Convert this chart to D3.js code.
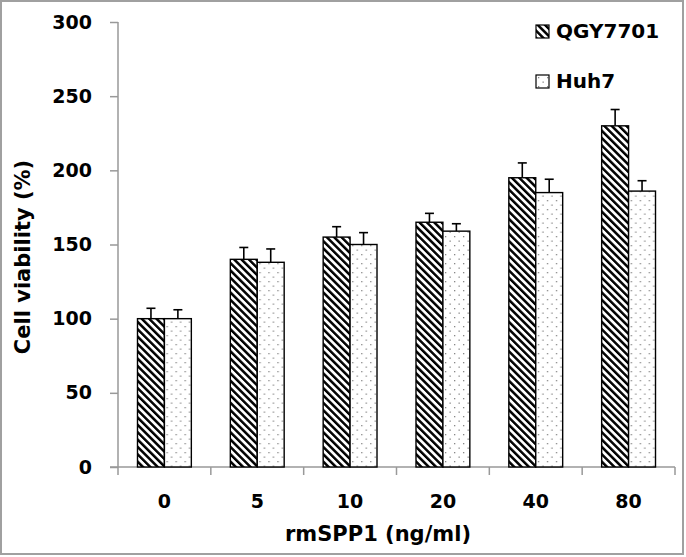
<!DOCTYPE html>
<html><head><meta charset="utf-8">
<script src="https://cdn.jsdelivr.net/npm/d3@7"></script>
<style>body{margin:0;background:#fff}svg{display:block}</style>
</head><body>
<svg id="c" width="686" height="557"></svg>
<script>
const categories = ["0","5","10","20","40","80"];
const seriesNames = ["QGY7701","Huh7"];
const qgyValues = [100,140,155,165,195,230];
const qgyErrors = [7,8,7,6,10,11];
const huhValues = [100,138,150,159,185,186];
const huhErrors = [6,9,8,5,9,7];
const yTicks = [0,50,100,150,200,250,300];

const svg = d3.select("#c");
const font = "'DejaVu Sans', sans-serif";
const defs = svg.append("defs");
const hatch = defs.append("pattern").attr("id","hatch").attr("patternUnits","userSpaceOnUse")
  .attr("width",5.2).attr("height",10).attr("patternTransform","rotate(-45)");
hatch.append("rect").attr("width",5.2).attr("height",10).attr("fill","#fff");
hatch.append("rect").attr("x",0).attr("y",0).attr("width",2.5).attr("height",10).attr("fill","#000");
const dots = defs.append("pattern").attr("id","dots").attr("patternUnits","userSpaceOnUse")
  .attr("width",9).attr("height",9);
dots.append("rect").attr("width",9).attr("height",9).attr("fill","#fff");
dots.append("rect").attr("x",2).attr("y",2).attr("width",1.3).attr("height",1.3).attr("fill","#888");
dots.append("rect").attr("x",6.5).attr("y",6.5).attr("width",1.3).attr("height",1.3).attr("fill","#888");

// frame
svg.append("rect").attr("x",1).attr("y",1).attr("width",682).attr("height",553)
  .attr("fill","none").attr("stroke","#a0a0a0").attr("stroke-width",2);

const x0 = d3.scaleBand().domain(categories).range([118,675]).paddingInner(0.42).paddingOuter(0.21);
const x1 = d3.scaleBand().domain(seriesNames).range([0,x0.bandwidth()]);
const y = d3.scaleLinear().domain([0,300]).range([467,22]);

// axes
const yAxis = svg.append("g").attr("transform","translate(118,0)")
  .call(d3.axisLeft(y).tickValues(yTicks).tickSize(8).tickPadding(18));
yAxis.select(".domain").attr("stroke","#999").attr("stroke-width",1.5).attr("d","M0,22V467");
yAxis.selectAll(".tick line").attr("stroke","#999").attr("stroke-width",1.5);
yAxis.selectAll("text").attr("font-family",font).attr("font-weight","bold").attr("font-size",19).attr("fill","#000");

const xBand = d3.scaleBand().domain(categories).range([118,675]);
const xAxis = svg.append("g").attr("transform","translate(0,467)");
xAxis.append("line").attr("x1",110).attr("x2",675).attr("y1",0).attr("y2",0).attr("stroke","#999").attr("stroke-width",1.5);
const tickPos = categories.map(c=>xBand(c)).concat([675]);
xAxis.selectAll("line.t").data(tickPos).enter().append("line").attr("class","t")
  .attr("x1",d=>d).attr("x2",d=>d).attr("y1",0).attr("y2",8).attr("stroke","#999").attr("stroke-width",1.5);
xAxis.selectAll("text").data(categories).enter().append("text")
  .attr("x",d=>xBand(d)+xBand.bandwidth()/2).attr("y",41).attr("text-anchor","middle")
  .attr("font-family",font).attr("font-weight","bold").attr("font-size",19).text(d=>d);

// bars
const data = categories.map((c,i)=>({c, vals:[
  {s:"QGY7701", v:qgyValues[i], e:qgyErrors[i], fill:"url(#hatch)"},
  {s:"Huh7", v:huhValues[i], e:huhErrors[i], fill:"url(#dots)"}]}));
const g = svg.selectAll("g.grp").data(data).enter().append("g").attr("class","grp")
  .attr("transform",d=>`translate(${x0(d.c)},0)`);
g.selectAll("line.err").data(d=>d.vals).enter().append("g").each(function(d){
  const cx = x1(d.s)+x1.bandwidth()/2;
  const gg = d3.select(this);
  gg.append("line").attr("x1",cx).attr("x2",cx).attr("y1",y(d.v)).attr("y2",y(d.v+d.e)).attr("stroke","#000").attr("stroke-width",1.6);
  gg.append("line").attr("x1",cx-4.5).attr("x2",cx+4.5).attr("y1",y(d.v+d.e)).attr("y2",y(d.v+d.e)).attr("stroke","#000").attr("stroke-width",1.6);
});
g.selectAll("rect").data(d=>d.vals).enter().append("rect")
  .attr("x",d=>x1(d.s)).attr("width",x1.bandwidth())
  .attr("y",d=>y(d.v)).attr("height",d=>y(0)-y(d.v))
  .attr("fill",d=>d.fill).attr("stroke","#000").attr("stroke-width",1.4);

// titles
svg.append("text").attr("x",378).attr("y",541).attr("text-anchor","middle")
  .attr("font-family",font).attr("font-weight","bold").attr("font-size",21).text("rmSPP1 (ng/ml)");
svg.append("text").attr("transform","translate(30,257) rotate(-90)").attr("text-anchor","middle")
  .attr("font-family",font).attr("font-weight","bold").attr("font-size",21).text("Cell viability (%)");

// legend
const fills = ["url(#hatch)","url(#dots)"];
const leg = svg.selectAll("g.leg").data(seriesNames).enter().append("g").attr("class","leg")
  .attr("transform",(d,i)=>`translate(536,${25+i*50})`);
leg.append("rect").attr("width",13).attr("height",13).attr("fill",(d,i)=>fills[i]).attr("stroke","#000").attr("stroke-width",1.2);
leg.append("text").attr("x",20).attr("y",13).attr("font-family",font).attr("font-weight","bold").attr("font-size",20).text(d=>d);
</script>
</body></html>
